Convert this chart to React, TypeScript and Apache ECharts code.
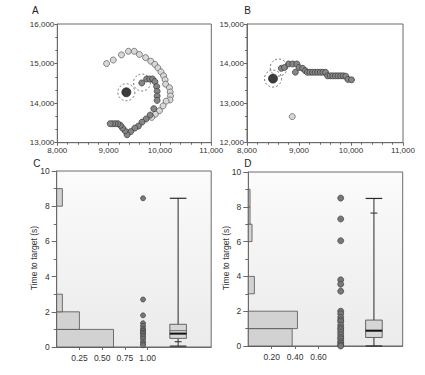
import React, { useEffect, useRef } from "react";
import * as echarts from "echarts";

// ---------- Panel A (trajectory) ----------
const aLightPoints = [
  [8960, 15000], [9090, 15090], [9250, 15220], [9385, 15310], [9500, 15310],
  [9600, 15230], [9720, 15150], [9820, 15060], [9900, 14980], [9960, 14890],
  [10020, 14790], [10070, 14690], [10100, 14590], [10110, 14480], [10185, 14390],
  [10200, 14280], [10205, 14180], [10195, 14080], [10120, 14050], [10060, 13930],
  [9990, 13810], [9910, 13720], [9840, 13640],
];
const aDarkPoints = [
  [9645, 14510], [9740, 14610], [9800, 14610], [9855, 14610], [9900, 14545],
  [9935, 14420], [9945, 14300], [9945, 14180], [9945, 14070], [9880, 13860],
  [9810, 13700], [9730, 13600], [9650, 13520], [9580, 13420], [9510, 13370],
  [9430, 13280], [9360, 13200], [9320, 13300], [9270, 13370], [9230, 13440],
  [9180, 13480], [9130, 13480], [9080, 13480], [9030, 13480],
];
const aStartPoint = [[9345, 14275]];
const aRingPoints = [[9345, 14275], [9650, 14520]];

// ---------- Panel B (trajectory) ----------
const bLightPoints = [[8870, 12660]];
const bDarkPoints = [
  [8660, 13880], [8720, 13900], [8800, 13990], [8880, 13990], [8960, 13990],
  [8930, 13780], [9000, 13900], [9070, 13880], [9120, 13820], [9160, 13780],
  [9210, 13780], [9260, 13780], [9310, 13780], [9360, 13780], [9410, 13780],
  [9460, 13780], [9510, 13780], [9550, 13690], [9600, 13690], [9650, 13690],
  [9700, 13690], [9750, 13690], [9800, 13690], [9850, 13690], [9900, 13680],
  [9940, 13600], [10010, 13590],
];
const bStartPoint = [[8500, 13620]];
const bRingPoints = [[8500, 13620], [8610, 13900]];

// ---------- Panel C (time to target) ----------
const cHistLow = [0, 1, 2, 8];
const cHistHigh = [1, 2, 3, 9];
const cHistProp = [0.625, 0.25, 0.0625, 0.0625];
const cTimes = [8.45, 2.7, 1.8, 1.35, 1.2, 1.05, 0.95, 0.9, 0.8, 0.75, 0.65, 0.55, 0.45, 0.3, 0.2, 0.1];
// low whisker, q1, median, q3, high whisker, percentile tick, mean
const cBox = [0.05, 0.49, 0.76, 1.29, 8.45, 0.3, 0.93];
const cTickLabels = [0.25, 0.5, 0.75, 1.0];

// ---------- Panel D (time to target) ----------
const dHistLow = [0, 1, 3, 6, 7, 8];
const dHistHigh = [1, 2, 4, 7, 8, 9];
const dHistProp = [0.375, 0.42, 0.052, 0.032, 0.015, 0.015];
const dTimes = [
  8.5, 7.3, 6.05, 3.8, 3.55, 3.15, 2.0, 1.85, 1.65, 1.5, 1.4, 1.2, 1.05,
  0.95, 0.8, 0.65, 0.5, 0.4, 0.25, 0.15, 0.05, 0,
];
const dBox = [0, 0.49, 0.88, 1.49, 8.48, 7.64, NaN];
const dTickLabels = [0.2, 0.4, 0.6];

const yTicks = [0, 2, 4, 6, 8, 10];

const FONT = "'Liberation Sans', Arial, Helvetica, sans-serif";
const AXIS_COLOR = "#6a6a6a";
const LABEL_COLOR = "#333";

const thousands = (v: number) => String(v).replace(/\B(?=(\d{3})+(?!\d))/g, ",");

function trajAxis(gridIndex: number, min: number, max: number, minorSplit: number, isX: boolean) {
  return {
    gridIndex,
    type: "value",
    min,
    max,
    interval: 1000,
    axisLine: { show: true, lineStyle: { color: AXIS_COLOR, width: 1 } },
    axisTick: { show: true, length: 3, lineStyle: { color: AXIS_COLOR } },
    minorTick: { show: true, splitNumber: minorSplit, length: 2, lineStyle: { color: AXIS_COLOR } },
    splitLine: { show: false },
    minorSplitLine: { show: false },
    axisLabel: {
      fontSize: 8,
      color: LABEL_COLOR,
      fontFamily: FONT,
      margin: isX ? 4 : 3,
      formatter: (v: number) => thousands(v),
    },
  };
}

function timeYAxis(gridIndex: number) {
  return {
    gridIndex,
    type: "value",
    min: 0,
    max: 10,
    interval: 2,
    axisLine: { show: true, lineStyle: { color: AXIS_COLOR } },
    axisTick: { show: true, length: 5, lineStyle: { color: AXIS_COLOR } },
    minorTick: { show: true, splitNumber: 2, length: 3, lineStyle: { color: AXIS_COLOR } },
    splitLine: { show: false },
    axisLabel: {
      fontSize: 8.5,
      color: LABEL_COLOR,
      fontFamily: FONT,
      margin: 7,
      customValues: yTicks,
    },
  };
}

function propXAxis(gridIndex: number, max: number, ticks: number[]) {
  return {
    gridIndex,
    type: "value",
    min: 0,
    max,
    axisLine: { show: true, lineStyle: { color: AXIS_COLOR } },
    axisTick: { show: true, length: 3, customValues: ticks, lineStyle: { color: AXIS_COLOR } },
    splitLine: { show: false },
    axisLabel: {
      fontSize: 8.5,
      color: LABEL_COLOR,
      fontFamily: FONT,
      margin: 6,
      customValues: ticks,
      formatter: (v: number) => v.toFixed(2),
    },
  };
}

function histSeries(axis: number, low: number[], high: number[], prop: number[]) {
  return {
    type: "custom",
    xAxisIndex: axis,
    yAxisIndex: axis,
    data: low.map((l, i) => [l, high[i], prop[i]]),
    encode: { x: 2, y: [0, 1] },
    renderItem: (_p: any, api: any) => {
      const top = api.coord([0, api.value(1)]);
      const bot = api.coord([api.value(2), api.value(0)]);
      return {
        type: "rect",
        shape: { x: top[0], y: top[1], width: bot[0] - top[0], height: bot[1] - top[1] },
        style: { fill: "#d2d2d2", stroke: "#505050", lineWidth: 0.8 },
      };
    },
  };
}

function boxSeries(axis: number, xPos: number, stats: number[]) {
  return {
    type: "custom",
    xAxisIndex: axis,
    yAxisIndex: axis,
    data: [[xPos, ...stats]],
    encode: { x: 0, y: [1, 5] },
    renderItem: (_p: any, api: any) => {
      const x = api.value(0);
      const c = (v: number) => api.coord([x, v]);
      const pl = c(api.value(1));
      const pq1 = c(api.value(2));
      const pm = c(api.value(3));
      const pq3 = c(api.value(4));
      const ph = c(api.value(5));
      const pt = c(api.value(6));
      const meanV = api.value(7);
      const cx = pl[0];
      const hw = 8.3;
      const stroke = "#2a2a2a";
      const children: any[] = [
        { type: "line", shape: { x1: cx, y1: ph[1], x2: cx, y2: pq3[1] }, style: { stroke, lineWidth: 1 } },
        { type: "line", shape: { x1: cx, y1: pq1[1], x2: cx, y2: pl[1] }, style: { stroke, lineWidth: 1 } },
        { type: "line", shape: { x1: cx - hw, y1: ph[1], x2: cx + hw, y2: ph[1] }, style: { stroke, lineWidth: 1.2 } },
        { type: "line", shape: { x1: cx - hw, y1: pl[1], x2: cx + hw, y2: pl[1] }, style: { stroke, lineWidth: 1.2 } },
        { type: "line", shape: { x1: cx - 3.5, y1: pt[1], x2: cx + 3.5, y2: pt[1] }, style: { stroke, lineWidth: 1 } },
        {
          type: "rect",
          shape: { x: cx - hw, y: pq3[1], width: hw * 2, height: pq1[1] - pq3[1] },
          style: { fill: "#d6d6d6", stroke: "#444", lineWidth: 0.8 },
        },
      ];
      if (!isNaN(meanV)) {
        const pmean = c(meanV);
        children.push({
          type: "line",
          shape: { x1: cx - hw, y1: pmean[1], x2: cx + hw, y2: pmean[1] },
          style: { stroke: "#555", lineWidth: 0.8 },
        });
      }
      children.push({
        type: "line",
        shape: { x1: cx - hw, y1: pm[1], x2: cx + hw, y2: pm[1] },
        style: { stroke: "#111", lineWidth: 2 },
      });
      return { type: "group", children };
    },
  };
}

function dotSeries(axis: number, xPos: number, values: number[], size: number) {
  return {
    type: "scatter",
    xAxisIndex: axis,
    yAxisIndex: axis,
    data: values.map((v) => [xPos, v]),
    symbolSize: size,
    itemStyle: { color: "#777", borderColor: "#404040", borderWidth: 0.7, opacity: 1 },
  };
}

function trajSeries(axis: number, pts: number[][], size: number, color: string, border: string) {
  return {
    type: "scatter",
    xAxisIndex: axis,
    yAxisIndex: axis,
    data: pts,
    symbolSize: size,
    itemStyle: { color, borderColor: border, borderWidth: 0.7, opacity: 1 },
  };
}

function ringSeries(axis: number, pts: number[][]) {
  return {
    type: "scatter",
    xAxisIndex: axis,
    yAxisIndex: axis,
    data: pts,
    symbolSize: 17,
    itemStyle: {
      color: "rgba(0,0,0,0)",
      borderColor: "#555",
      borderWidth: 0.8,
      borderType: [2, 2],
      opacity: 1,
    },
  };
}

const panelBg = {
  type: "linear",
  x: 0,
  y: 0,
  x2: 0,
  y2: 1,
  colorStops: [
    { offset: 0, color: "#fbfbfb" },
    { offset: 1, color: "#ebebeb" },
  ],
};

export default function App() {
  const ref = useRef<HTMLDivElement>(null);
  useEffect(() => {
    if (!ref.current) return;
    const chart = echarts.init(ref.current, undefined, { renderer: "svg" });
    const option: any = {
      animation: false,
      backgroundColor: "#fff",
      textStyle: { fontFamily: FONT },
      grid: [
        { left: 57.3, top: 24, width: 154, height: 118.7, show: true, borderColor: AXIS_COLOR, borderWidth: 1, backgroundColor: "#fff" },
        { left: 247, top: 24, width: 156, height: 118.7, show: true, borderColor: AXIS_COLOR, borderWidth: 1, backgroundColor: "#fff" },
        { left: 56.7, top: 171, width: 154.5, height: 176, show: true, borderColor: AXIS_COLOR, borderWidth: 1, backgroundColor: panelBg },
        { left: 248.3, top: 172, width: 154.4, height: 174, show: true, borderColor: AXIS_COLOR, borderWidth: 1, backgroundColor: panelBg },
      ],
      xAxis: [
        trajAxis(0, 8000, 11000, 5, true),
        trajAxis(1, 8000, 11000, 5, true),
        propXAxis(2, 1.7, cTickLabels),
        propXAxis(3, 1.32, dTickLabels),
      ],
      yAxis: [
        trajAxis(0, 13000, 16000, 3, false),
        trajAxis(1, 12000, 15000, 3, false),
        timeYAxis(2),
        timeYAxis(3),
      ],
      series: [
        trajSeries(0, aLightPoints, 6, "#d8d8d8", "#555"),
        trajSeries(0, aDarkPoints, 6, "#868686", "#333"),
        trajSeries(0, aStartPoint, 9, "#3c3c3c", "#222"),
        ringSeries(0, aRingPoints),
        trajSeries(1, bLightPoints, 6, "#d8d8d8", "#555"),
        trajSeries(1, bDarkPoints, 6, "#868686", "#333"),
        trajSeries(1, bStartPoint, 9, "#3c3c3c", "#222"),
        ringSeries(1, bRingPoints),
        histSeries(2, cHistLow, cHistHigh, cHistProp),
        dotSeries(2, 0.95, cTimes, 5),
        boxSeries(2, 1.336, cBox),
        histSeries(3, dHistLow, dHistHigh, dHistProp),
        dotSeries(3, 0.79, dTimes, 6),
        boxSeries(3, 1.074, dBox),
      ],
      graphic: [
        { type: "text", x: 32, y: 10, style: { text: "A", fontSize: 10, fill: "#222", fontFamily: FONT, verticalAlign: "middle" } },
        { type: "text", x: 244.3, y: 10.3, style: { text: "B", fontSize: 10, fill: "#222", fontFamily: FONT, verticalAlign: "middle" } },
        { type: "text", x: 33.3, y: 163.3, style: { text: "C", fontSize: 10, fill: "#222", fontFamily: FONT, verticalAlign: "middle" } },
        { type: "text", x: 244.3, y: 163.3, style: { text: "D", fontSize: 10, fill: "#222", fontFamily: FONT, verticalAlign: "middle" } },
        {
          type: "text", x: 34.3, y: 258, rotation: Math.PI / 2,
          style: { text: "Time to target (s)", fontSize: 8.5, fill: "#333", fontFamily: FONT, align: "center", verticalAlign: "middle" },
        },
        {
          type: "text", x: 226, y: 258, rotation: Math.PI / 2,
          style: { text: "Time to target (s)", fontSize: 8.5, fill: "#333", fontFamily: FONT, align: "center", verticalAlign: "middle" },
        },
      ],
    };
    chart.setOption(option);
    return () => chart.dispose();
  }, []);
  return (
    <div
      ref={ref}
      style={{ position: "absolute", left: 0, top: 0, width: 425, height: 375, background: "#fff" }}
    />
  );
}
